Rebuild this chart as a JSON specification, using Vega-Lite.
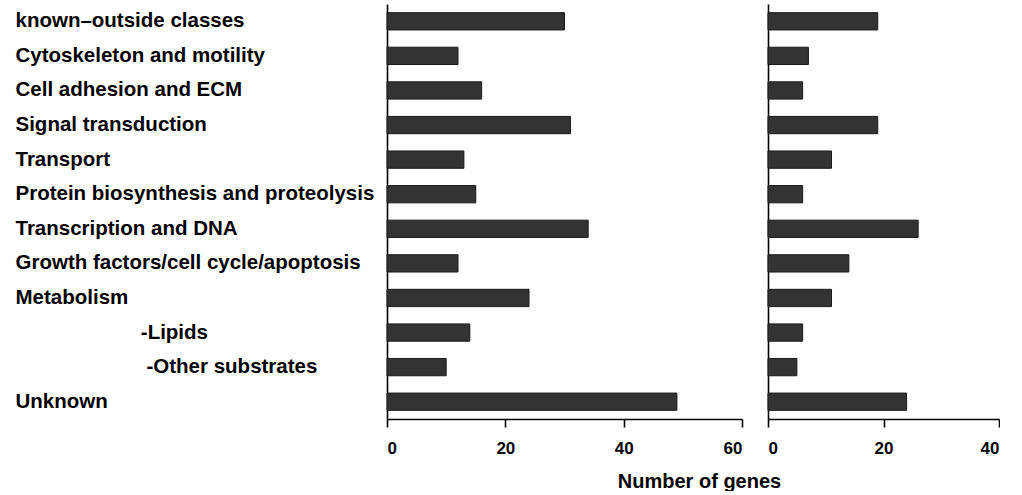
{
  "$schema": "https://vega.github.io/schema/vega-lite/v6.json",
  "padding": {"left": 15, "top": 4, "right": 0, "bottom": 0},
  "background": "white",
  "datasets": {
    "genes": [
      {"category": "known–outside classes", "left": 30, "right": 19},
      {"category": "Cytoskeleton and motility", "left": 12, "right": 7},
      {"category": "Cell adhesion and ECM", "left": 16, "right": 6},
      {"category": "Signal transduction", "left": 31, "right": 19},
      {"category": "Transport", "left": 13, "right": 11},
      {"category": "Protein biosynthesis and proteolysis", "left": 15, "right": 6},
      {"category": "Transcription and DNA", "left": 34, "right": 26},
      {"category": "Growth factors/cell cycle/apoptosis", "left": 12, "right": 14},
      {"category": "Metabolism", "left": 24, "right": 11},
      {"category": "-Lipids", "left": 14, "right": 6},
      {"category": "-Other substrates", "left": 10, "right": 5},
      {"category": "Unknown", "left": 49, "right": 24}
    ]
  },
  "data": {"name": "genes"},
  "spacing": 26,
  "bounds": "flush",
  "config": {
    "view": {"stroke": null},
    "axis": {"grid": false, "domainColor": "black", "domainWidth": 1.6, "tickColor": "black", "tickWidth": 1.6, "labelColor": "black", "titleColor": "black"}
  },
  "hconcat": [
    {
      "width": 355,
      "height": 415,
      "mark": {"type": "bar", "fill": "#333333", "stroke": "#1a1a1a", "strokeWidth": 1},
      "encoding": {
        "y": {
          "field": "category", "type": "nominal", "sort": null,
          "scale": {"paddingInner": 0.5, "paddingOuter": 0.25},
          "axis": {
            "title": null, "ticks": false, "tickSize": 0, "labelAlign": "left", "labelPadding": 372,
            "labelLimit": 500, "labelFont": "Liberation Sans", "labelFontWeight": "bold", "labelFontSize": 20.5,
            "labelBaseline": "middle",
            "labelExpr": "datum.label == '-Lipids' ? '\u200b\u00a0\u00a0\u00a0\u00a0\u00a0\u00a0\u00a0\u00a0\u00a0\u00a0\u00a0\u00a0\u00a0\u00a0\u00a0\u00a0\u00a0\u00a0\u00a0\u00a0\u00a0\u00a0' + datum.label : (datum.label == '-Other substrates' ? '\u200b\u00a0\u00a0\u00a0\u00a0\u00a0\u00a0\u00a0\u00a0\u00a0\u00a0\u00a0\u00a0\u00a0\u00a0\u00a0\u00a0\u00a0\u00a0\u00a0\u00a0\u00a0\u00a0\u00a0' + datum.label : datum.label)"
          }
        },
        "x": {
          "field": "left", "type": "quantitative",
          "scale": {"domain": [0, 60], "nice": false},
          "axis": {
            "values": [0, 20, 40, 60], "tickSize": 8, "labelPadding": 13,
            "labelFont": "Liberation Sans", "labelFontWeight": "bold", "labelFontSize": 17,
            "title": "Number of genes", "titleFont": "Liberation Sans", "titleFontWeight": "bold", "titleFontSize": 20,
            "titleX": 312, "titleY": 68, "titleAlign": "center", "titleBaseline": "alphabetic"
          }
        }
      }
    },
    {
      "width": 231,
      "height": 415,
      "mark": {"type": "bar", "fill": "#333333", "stroke": "#1a1a1a", "strokeWidth": 1},
      "encoding": {
        "y": {
          "field": "category", "type": "nominal", "sort": null,
          "scale": {"paddingInner": 0.5, "paddingOuter": 0.25},
          "axis": {"title": null, "ticks": false, "labels": false}
        },
        "x": {
          "field": "right", "type": "quantitative",
          "scale": {"domain": [0, 40], "nice": false},
          "axis": {
            "values": [0, 20, 40], "tickSize": 8, "labelPadding": 13,
            "labelFont": "Liberation Sans", "labelFontWeight": "bold", "labelFontSize": 17,
            "title": null
          }
        }
      }
    }
  ]
}
